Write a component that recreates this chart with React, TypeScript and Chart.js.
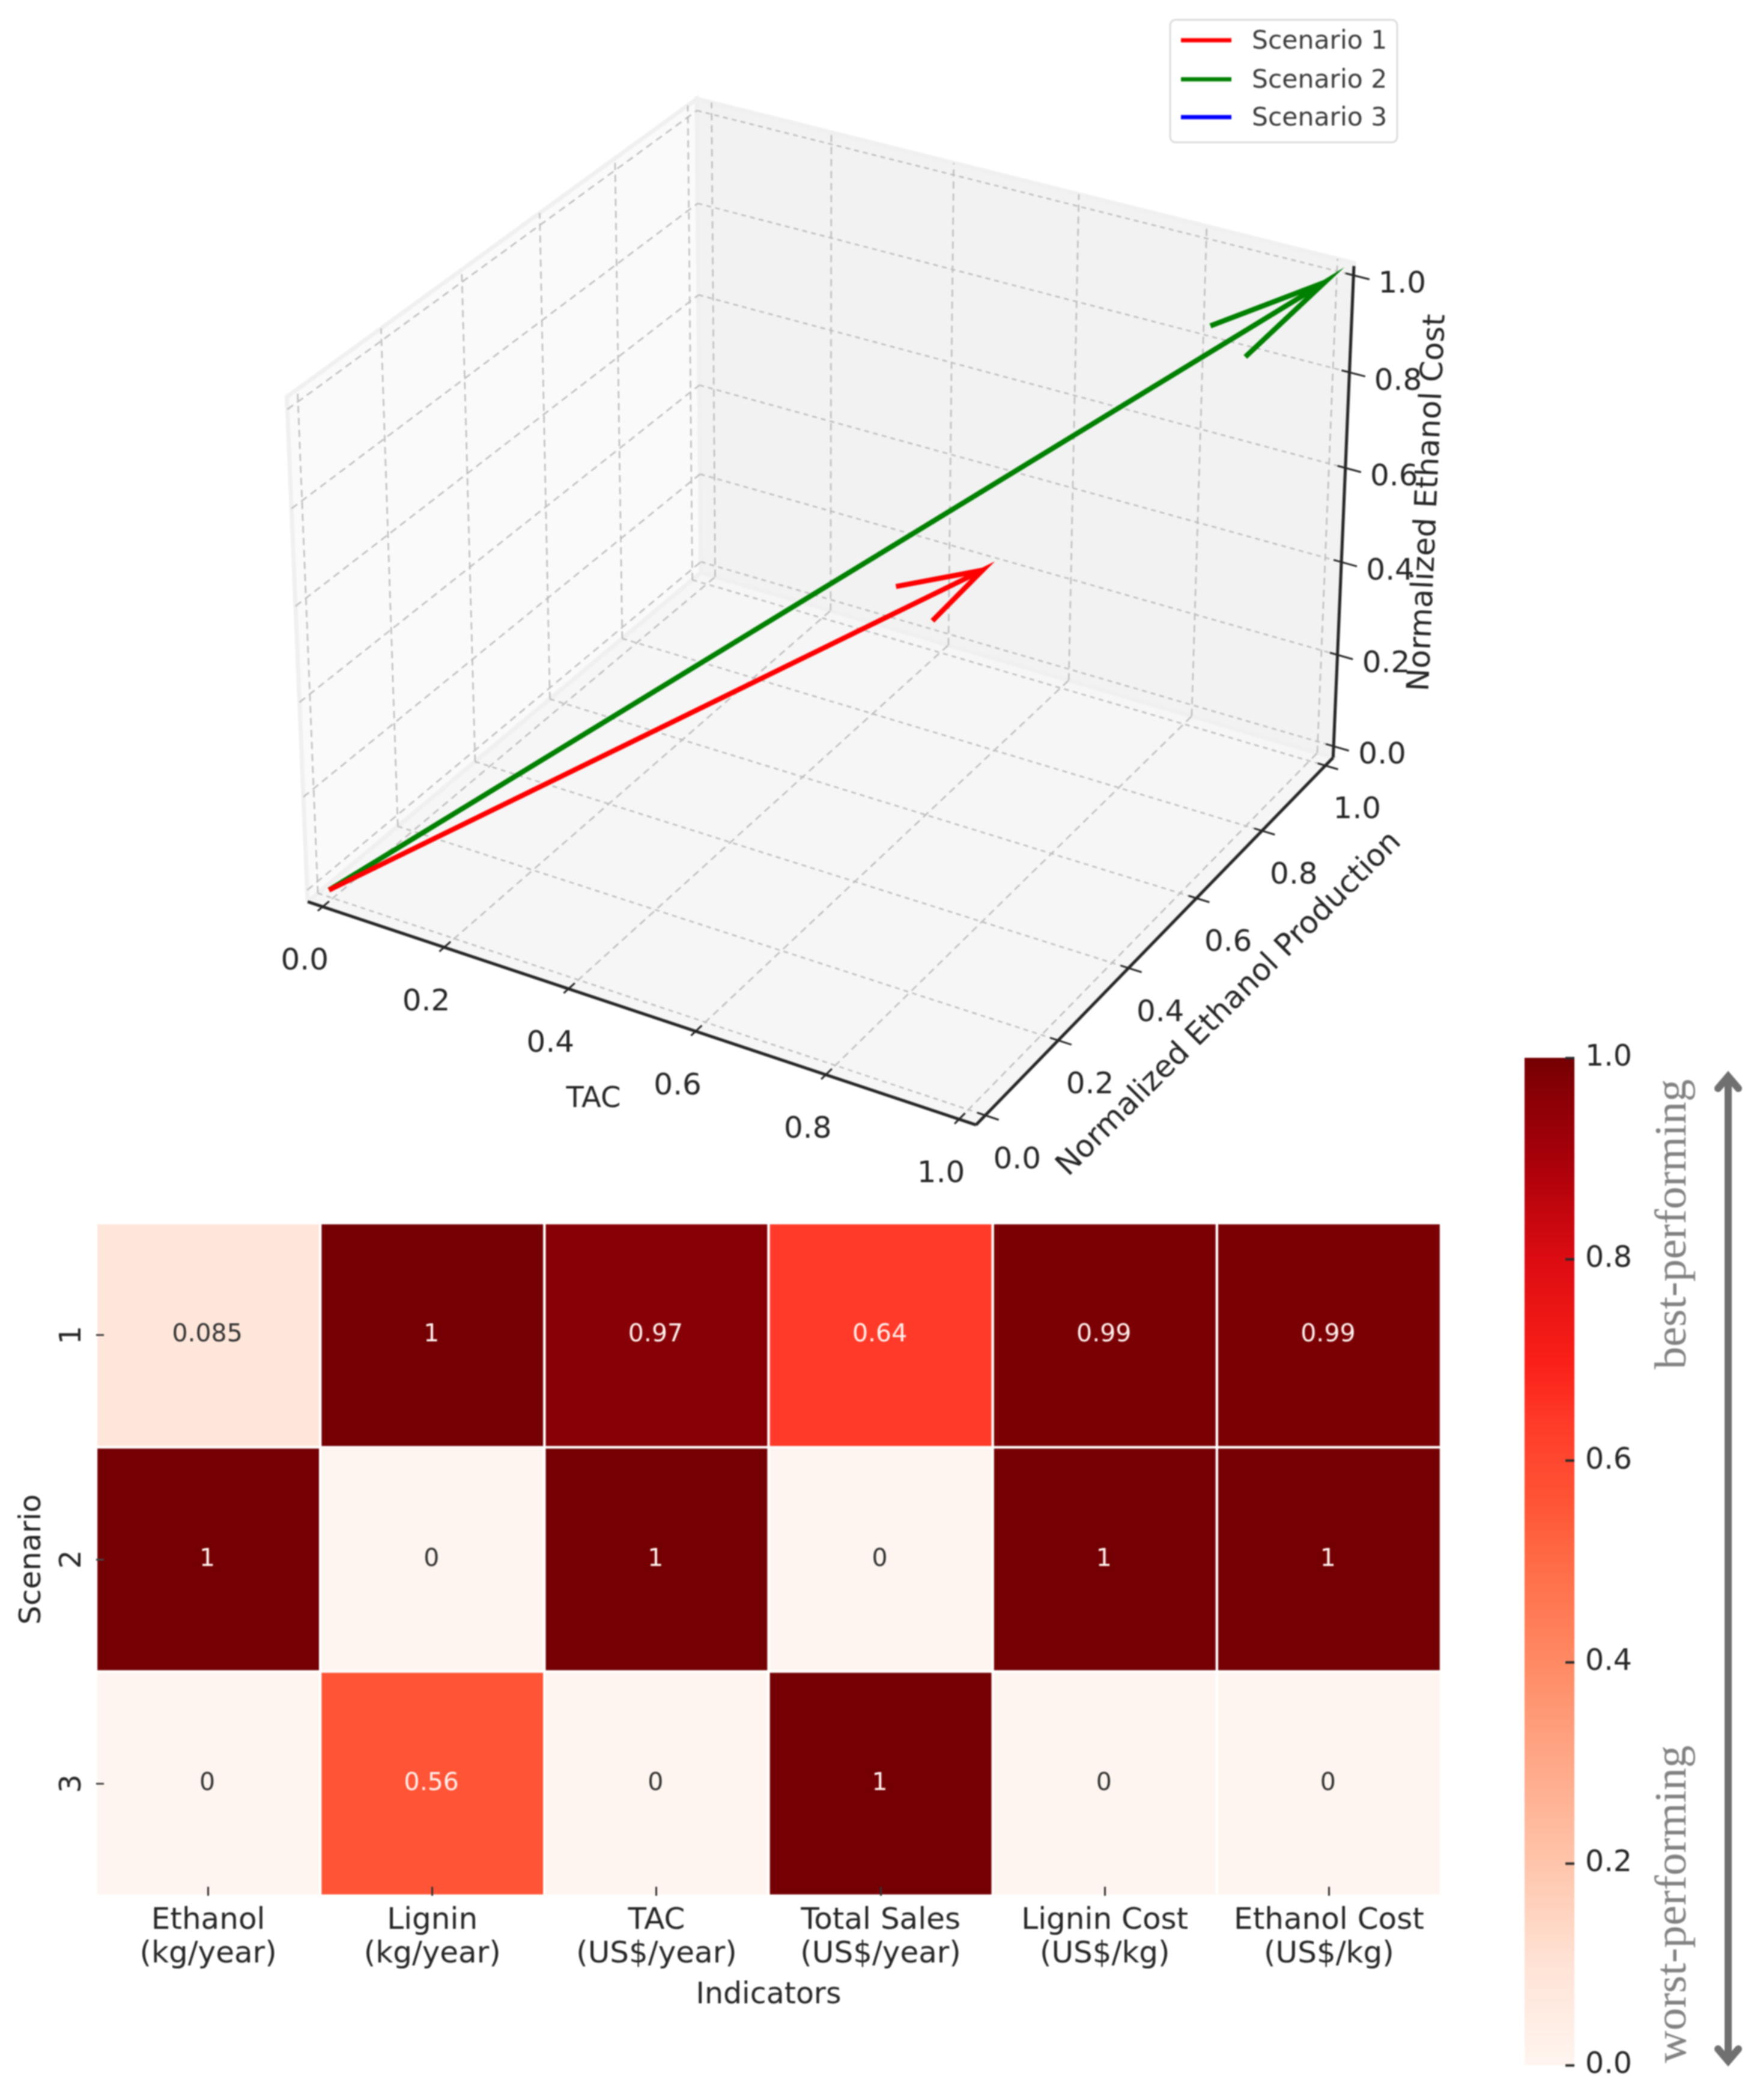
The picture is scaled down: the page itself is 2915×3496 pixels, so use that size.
import { useEffect, useRef } from 'react';
import { Chart, registerables } from 'chart.js';

Chart.register(...registerables);

// ---------- data ----------
const AXIS_TICKS = [0, 0.2, 0.4, 0.6, 0.8, 1];
const AXIS_TICK_LABELS = ['0.0', '0.2', '0.4', '0.6', '0.8', '1.0'];
const SCENARIO_NAMES = ['Scenario 1', 'Scenario 2', 'Scenario 3'];
const SCENARIO_COLORS = ['#ff0000', '#008000', '#0000ff'];
const TAC_VALUES = [0.97, 1, 0];
const PRODUCTION_VALUES = [0.085, 1, 0];
const COST_VALUES = [0.99, 1, 0];

const INDICATORS = [
  ['Ethanol', '(kg/year)'],
  ['Lignin', '(kg/year)'],
  ['TAC', '(US$/year)'],
  ['Total Sales', '(US$/year)'],
  ['Lignin Cost', '(US$/kg)'],
  ['Ethanol Cost', '(US$/kg)'],
];
const ROW_LABELS = ['1', '2', '3'];
const ROW_1 = [0.085, 1, 0.97, 0.64, 0.99, 0.99];
const ROW_2 = [1, 0, 1, 0, 1, 1];
const ROW_3 = [0, 0.56, 0, 1, 0, 0];
const HEAT_ROWS = [ROW_1, ROW_2, ROW_3];

const COLORBAR_TICKS_STEP = 0.2;
const RED_STOPS: [number, string][] = [
  [0, '#fff5f0'],
  [0.1, '#ffe3d6'],
  [0.2, '#ffc5ab'],
  [0.3, '#ffa888'],
  [0.4, '#ff8a64'],
  [0.5, '#ff6b46'],
  [0.56, '#ff5436'],
  [0.64, '#ff3a28'],
  [0.7, '#fa1f18'],
  [0.8, '#dc0c12'],
  [0.9, '#a8000a'],
  [0.97, '#860005'],
  [1, '#740003'],
];

// ---------- colours ----------
function hex(c: string) {
  return [1, 3, 5].map((i) => parseInt(c.slice(i, i + 2), 16));
}
function reds(v: number) {
  for (let i = 1; i < RED_STOPS.length; i++) {
    if (v <= RED_STOPS[i][0]) {
      const [a, ca] = RED_STOPS[i - 1];
      const [b, cb] = RED_STOPS[i];
      const t = (v - a) / (b - a);
      const A = hex(ca);
      const B = hex(cb);
      return `rgb(${A.map((x, k) => Math.round(x + (B[k] - x) * t)).join(',')})`;
    }
  }
  return RED_STOPS[RED_STOPS.length - 1][1];
}

// ---------- 3D camera: solved from where the axes sit in the page ----------
const P = 0.025;
type V3 = [number, number, number];
const CAMERA_ANCHORS: [V3, [number, number]][] = [
  ...(
    [
      [533, 1513],
      [737, 1579],
      [946, 1647],
      [1158, 1717],
      [1375, 1791],
      [1600, 1861],
    ] as [number, number][]
  ).map((p, i): [V3, [number, number]] => [[AXIS_TICKS[i], -P, -P], p]),
  ...(
    [
      [1638, 1858],
      [1761, 1729],
      [1877, 1610],
      [1988, 1494],
      [2102, 1383],
      [2210, 1273],
    ] as [number, number][]
  ).map((p, i): [V3, [number, number]] => [[1 + P, AXIS_TICKS[i], -P], p]),
  ...(
    [
      [2217, 1245],
      [2225, 1092],
      [2233, 937],
      [2242, 780],
      [2248, 620],
      [2255, 457],
    ] as [number, number][]
  ).map((p, i): [V3, [number, number]] => [[1 + P, 1 + P, AXIS_TICKS[i]], p]),
  [[-P, 1 + P, 0], [1168, 938]],
  [[0, 1, -P], [1178, 970]],
  [[-P, 1, -P], [1153, 958]],
  [[0, 1 + P, -P], [1187, 963]],
  [[-P, 1 + P, 0.2], [1167, 792]],
  [[-P, 0.8, -P], [1040, 1060]],
  [[-P, 0.8, 0], [1040, 1045]],
  [[-P, 1 + P, 1 + P], [1150, 166]],
  [[-P, -P, 1 + P], [484, 658]],
];

function solveCamera() {
  const n = 11;
  const A = Array.from({ length: n }, () => new Array(n + 1).fill(0));
  const add = (row: number[], rhs: number) => {
    for (let i = 0; i < n; i++) {
      for (let j = 0; j < n; j++) A[i][j] += row[i] * row[j];
      A[i][n] += row[i] * rhs;
    }
  };
  for (const [[X, Y, Z], [px, py]] of CAMERA_ANCHORS) {
    const u = px / 1000;
    const v = py / 1000;
    add([X, Y, Z, 1, 0, 0, 0, 0, -u * X, -u * Y, -u * Z], u);
    add([0, 0, 0, 0, X, Y, Z, 1, -v * X, -v * Y, -v * Z], v);
  }
  for (let c = 0; c < n; c++) {
    let best = c;
    for (let r = c + 1; r < n; r++) if (Math.abs(A[r][c]) > Math.abs(A[best][c])) best = r;
    [A[c], A[best]] = [A[best], A[c]];
    for (let r = 0; r < n; r++) {
      if (r === c) continue;
      const f = A[r][c] / A[c][c];
      for (let k = c; k <= n; k++) A[r][k] -= f * A[c][k];
    }
  }
  return A.map((row, i) => row[n] / row[i]);
}
const H = solveCamera();
function project([X, Y, Z]: V3) {
  const w = H[8] * X + H[9] * Y + H[10] * Z + 1;
  return {
    x: (1000 * (H[0] * X + H[1] * Y + H[2] * Z + H[3])) / w,
    y: (1000 * (H[4] * X + H[5] * Y + H[6] * Z + H[7])) / w,
  };
}

function rotateAbout(v: V3, k: V3, a: number): V3 {
  const c = Math.cos(a);
  const s = Math.sin(a);
  const d = k[0] * v[0] + k[1] * v[1] + k[2] * v[2];
  const cr: V3 = [k[1] * v[2] - k[2] * v[1], k[2] * v[0] - k[0] * v[2], k[0] * v[1] - k[1] * v[0]];
  return [0, 1, 2].map((i) => v[i] * c + cr[i] * s + k[i] * d * (1 - c)) as V3;
}

// the quiver sits a hair off the fitted camera in the picture
const QUIVER_SHIFT: V3 = [-0.006, 0, -0.01];

function arrowPath(tip: V3) {
  const origin: V3 = [0, 0, 0];
  const view = (p: V3) => project([p[0] + QUIVER_SHIFT[0], p[1] + QUIVER_SHIFT[1], p[2] + QUIVER_SHIFT[2]]);
  const n = Math.hypot(tip[0], tip[1]);
  if (n === 0) return [origin, origin, origin].map(view);
  const axis: V3 = [tip[1] / n, -tip[0] / n, 0];
  const head = (sign: number): V3 => {
    const r = rotateAbout(tip, axis, (sign * 15 * Math.PI) / 180);
    return [tip[0] - 0.1 * r[0], tip[1] - 0.1 * r[1], tip[2] - 0.1 * r[2]];
  };
  return [origin, tip, head(1), tip, head(-1)].map(view);
}

const Lo = -P;
const Hi = 1 + P;

function line3(a: V3, b: V3, color: string, width: number, dash: number[], order: number, label = '') {
  return {
    label,
    data: [a, b].map(project),
    showLine: true,
    pointRadius: 0,
    borderColor: color,
    borderWidth: width,
    borderDash: dash,
    order,
    clip: false,
  };
}

function pane(corners: V3[], fill: string, order: number) {
  return {
    label: '',
    data: corners.map(project),
    showLine: true,
    pointRadius: 0,
    borderColor: '#f0f0f0',
    borderWidth: 7,
    backgroundColor: fill,
    fill: 'shape',
    order,
    clip: false,
  };
}

function build3DDatasets() {
  const ds: any[] = [];
  SCENARIO_NAMES.forEach((name, i) => {
    ds.push({
      label: name,
      isScenario: true,
      data: arrowPath([TAC_VALUES[i], PRODUCTION_VALUES[i], COST_VALUES[i]]),
      showLine: true,
      pointRadius: 0,
      borderColor: SCENARIO_COLORS[i],
      backgroundColor: SCENARIO_COLORS[i],
      borderWidth: 8.5,
      borderCapStyle: 'butt',
      borderJoinStyle: 'miter',
      order: i === 0 ? 1 : i === 1 ? 2 : 3,
      clip: false,
    });
  });
  const axisColor = '#262626';
  ds.push(line3([Lo, Lo, Lo], [Hi, Lo, Lo], axisColor, 5, [], 5));
  ds.push(line3([Hi, Lo, Lo], [Hi, Hi, Lo], axisColor, 5, [], 5));
  ds.push(line3([Hi, Hi, Lo], [Hi, Hi, Hi - 0.006], axisColor, 5, [], 5));
  const grid = '#bdbdbd';
  const long = [12, 8];
  const short = [8, 7];
  AXIS_TICKS.forEach((t) => {
    ds.push(line3([t, Lo - 0.012, Lo], [t, Lo + 0.016, Lo], axisColor, 3, [], 5));
    ds.push(line3([Hi - 0.012, t, Lo], [Hi + 0.02, t, Lo], axisColor, 3, [], 5));
    ds.push(line3([Hi - 0.012, Hi, t], [Hi + 0.024, Hi, t], axisColor, 3, [], 5));
    ds.push(line3([t, Lo, Lo], [t, Hi, Lo], grid, 2.5, long, 8));
    ds.push(line3([t, Hi, Lo], [t, Hi, Hi], grid, 2.5, long, 8));
    ds.push(line3([Lo, t, Lo], [Hi, t, Lo], grid, 2.5, short, 8));
    ds.push(line3([Lo, t, Lo], [Lo, t, Hi], grid, 2.5, long, 8));
    ds.push(line3([Lo, Lo, t], [Lo, Hi, t], grid, 2.5, long, 8));
    ds.push(line3([Lo, Hi, t], [Hi, Hi, t], grid, 2.5, short, 8));
  });
  ds.push(pane([[Lo, Lo, Lo], [Hi, Lo, Lo], [Hi, Hi, Lo], [Lo, Hi, Lo], [Lo, Lo, Lo]], '#f6f6f6', 10));
  ds.push(pane([[Lo, Hi, Lo], [Hi, Hi, Lo], [Hi, Hi, Hi], [Lo, Hi, Hi], [Lo, Hi, Lo]], '#f2f2f2', 11));
  ds.push(pane([[Lo, Lo, Lo], [Lo, Hi, Lo], [Lo, Hi, Hi], [Lo, Lo, Hi], [Lo, Lo, Lo]], '#fafafa', 12));
  return ds;
}

const FONT = '"DejaVu Sans"';
const TEXT = '#262626';

function drawText(c: CanvasRenderingContext2D, text: string, x: number, y: number, font: string, color: string, deg = 0) {
  c.save();
  c.translate(x, y);
  c.rotate((deg * Math.PI) / 180);
  c.font = font;
  c.fillStyle = color;
  c.textAlign = 'center';
  c.textBaseline = 'middle';
  c.fillText(text, 0, 0);
  c.restore();
}

const labels3D = {
  id: 'labels3D',
  afterDatasetsDraw(chart: any) {
    const c = chart.ctx as CanvasRenderingContext2D;
    const tickFont = `50px ${FONT}`;
    AXIS_TICKS.forEach((t, i) => {
      const a = project([t, Lo, Lo]);
      drawText(c, AXIS_TICK_LABELS[i], a.x - 30, a.y + 92, tickFont, TEXT);
      const b = project([Hi, t, Lo]);
      drawText(c, AXIS_TICK_LABELS[i], b.x + 53, b.y + 75, tickFont, TEXT);
      const d = project([Hi, Hi, t]);
      drawText(c, AXIS_TICK_LABELS[i], d.x + 81, d.y + 16, tickFont, TEXT);
    });
    drawText(c, 'TAC', 988, 1831, `48px ${FONT}`, TEXT);
    drawText(c, 'Normalized Ethanol Production', 2047, 1672, `51px ${FONT}`, TEXT, -45);
    drawText(c, 'Normalized Ethanol Cost', 2378, 837, `51px ${FONT}`, TEXT, -87.5);

    // legend
    c.save();
    c.beginPath();
    c.roundRect(1948, 33, 378, 204, 9);
    c.fillStyle = '#ffffff';
    c.fill();
    c.lineWidth = 3;
    c.strokeStyle = '#dcdcdc';
    c.stroke();
    const items = chart.data.datasets.filter((d: any) => d.isScenario);
    const rows = [67, 132, 195];
    items.forEach((d: any, i: number) => {
      c.beginPath();
      c.moveTo(1966, rows[i]);
      c.lineTo(2050, rows[i]);
      c.strokeStyle = d.borderColor;
      c.lineWidth = 7;
      c.stroke();
      c.font = `42.5px ${FONT}`;
      c.fillStyle = '#3c3c3c';
      c.textAlign = 'left';
      c.textBaseline = 'middle';
      c.fillText(d.label, 2084, rows[i] + 3);
    });
    c.restore();
  },
};

const cellLabels = {
  id: 'cellLabels',
  afterDatasetsDraw(chart: any) {
    const c = chart.ctx as CanvasRenderingContext2D;
    HEAT_ROWS.forEach((vals, r) => {
      const meta = chart.getDatasetMeta(r);
      vals.forEach((v, i) => {
        const p = meta.data[i].getCenterPoint();
        drawText(c, String(v), p.x - 1.5, p.y, `41px ${FONT}`, v > 0.5 ? '#fff0ec' : '#333333');
      });
    });
  },
};

const sideNotes = {
  id: 'sideNotes',
  afterDraw(chart: any) {
    const c = chart.ctx as CanvasRenderingContext2D;
    const ox = 2500;
    const oy = 1700;
    const serif = '75px "Liberation Serif"';
    c.save();
    c.font = serif;
    c.fillStyle = '#828282';
    c.textAlign = 'center';
    c.textBaseline = 'alphabetic';
    [
      ['best-performing', 2038],
      ['worst-performing', 3170],
    ].forEach(([t, y]) => {
      c.save();
      c.translate(2806 - ox, (y as number) - oy);
      c.rotate(-Math.PI / 2);
      c.fillText(t as string, 0, 0);
      c.restore();
    });
    c.strokeStyle = '#707070';
    c.lineWidth = 12;
    c.beginPath();
    c.moveTo(2877 - ox, 1792 - oy);
    c.lineTo(2877 - ox, 3430 - oy);
    c.stroke();
    c.lineWidth = 12;
    c.lineCap = 'round';
    c.lineJoin = 'miter';
    c.beginPath();
    c.moveTo(2860 - ox, 1812 - oy);
    c.lineTo(2877 - ox, 1792 - oy);
    c.lineTo(2894 - ox, 1812 - oy);
    c.stroke();
    c.beginPath();
    c.moveTo(2860 - ox, 3411 - oy);
    c.lineTo(2877 - ox, 3431 - oy);
    c.lineTo(2894 - ox, 3411 - oy);
    c.stroke();
    c.restore();
  },
};

const canvasStyle = (left: number, top: number, width: number, height: number): React.CSSProperties => ({
  position: 'absolute',
  left,
  top,
  width,
  height,
  display: 'block',
  filter: 'blur(1.1px)',
});

export default function App() {
  const a = useRef<HTMLCanvasElement>(null);
  const b = useRef<HTMLCanvasElement>(null);
  const d = useRef<HTMLCanvasElement>(null);

  useEffect(() => {
    Chart.defaults.font.family = FONT;
    Chart.defaults.color = TEXT;
    const quiet = { legend: { display: false }, tooltip: { enabled: false } };

    const top = new Chart(a.current!, {
      type: 'scatter',
      data: { datasets: build3DDatasets() },
      options: {
        animation: false,
        responsive: false,
        devicePixelRatio: 1,
        plugins: quiet as any,
        layout: { padding: 0 },
        scales: {
          x: { type: 'linear', min: 0, max: 2915, display: false },
          y: { type: 'linear', min: 0, max: 2010, reverse: true, display: false },
        },
      },
      plugins: [labels3D],
    } as any);

    const heat = new Chart(b.current!, {
      type: 'bar',
      data: {
        labels: INDICATORS as any,
        datasets: HEAT_ROWS.map((vals, r) => ({
          label: `Scenario ${ROW_LABELS[r]}`,
          data: vals.map(() => [r, r + 1]),
          backgroundColor: vals.map(reds),
          borderColor: '#ffffff',
          borderWidth: 2.5,
          borderSkipped: false,
          barPercentage: 1,
          categoryPercentage: 1,
          grouped: false,
        })),
      } as any,
      options: {
        animation: false,
        responsive: false,
        devicePixelRatio: 1,
        plugins: quiet as any,
        layout: { padding: { left: 0, right: 21, top: 36, bottom: 0 } },
        scales: {
          x: {
            afterFit(s: any) {
              s.height = 244;
              s.paddingLeft = 0;
              s.paddingRight = 0;
            },
            grid: { offset: false, drawOnChartArea: false, tickLength: -15, tickColor: '#333333', tickWidth: 3, z: 1 },
            border: { display: false },
            ticks: { font: { size: 50, lineHeight: 1.12 }, padding: 29, maxRotation: 0, minRotation: 0, autoSkip: false, color: TEXT },
            title: { display: true, text: 'Indicators', font: { size: 49 }, color: TEXT, padding: { top: 0, bottom: 48 } },
          },
          y: {
            type: 'linear',
            min: 0,
            max: 3,
            reverse: true,
            afterFit(s: any) {
              s.width = 160;
              s.paddingTop = 0;
              s.paddingBottom = 0;
            },
            afterBuildTicks(s: any) {
              s.ticks = ROW_LABELS.map((_, i) => ({ value: i + 0.5 }));
            },
            grid: { drawOnChartArea: false, tickLength: -13, tickColor: '#444444', tickWidth: 3, z: 1 },
            border: { display: false },
            ticks: {
              font: { size: 49 },
              padding: 36,
              minRotation: 90,
              maxRotation: 90,
              crossAlign: 'center',
              autoSkip: false,
              color: TEXT,
              callback: (v: any) => ROW_LABELS[Math.floor(v)],
            },
            title: { display: true, text: 'Scenario', font: { size: 50 }, color: TEXT, padding: { top: 24, bottom: 0 } },
          },
        },
      },
      plugins: [cellLabels],
    } as any);

    const bar = new Chart(d.current!, {
      type: 'bar',
      data: {
        labels: ['scale'],
        datasets: [
          {
            label: 'Normalized performance',
            data: [[0, 1]],
            barPercentage: 1,
            categoryPercentage: 1,
            borderWidth: 0,
            backgroundColor: (ctx: any) => {
              const { chart } = ctx;
              const area = chart.chartArea;
              if (!area) return '#740003';
              const g = chart.ctx.createLinearGradient(0, area.bottom, 0, area.top);
              RED_STOPS.forEach(([v, col]) => g.addColorStop(v, col));
              return g;
            },
          },
        ],
      } as any,
      options: {
        animation: false,
        responsive: false,
        devicePixelRatio: 1,
        plugins: quiet as any,
        layout: { padding: { left: 38, top: 61, bottom: 58, right: 0 } },
        scales: {
          x: { display: false },
          y: {
            position: 'right',
            min: 0,
            max: 1,
            afterFit(s: any) {
              s.width = 294;
              s.paddingTop = 0;
              s.paddingBottom = 0;
            },
            grid: { drawOnChartArea: false, tickLength: -15, tickColor: '#2a2a2a', tickWidth: 4, z: 1 },
            border: { display: false },
            ticks: {
              stepSize: COLORBAR_TICKS_STEP,
              padding: 33,
              font: { size: 49 },
              color: TEXT,
              callback: (v: any) => Number(v).toFixed(1),
            },
          },
        },
      },
      plugins: [sideNotes],
    } as any);

    return () => {
      top.destroy();
      heat.destroy();
      bar.destroy();
    };
  }, []);

  return (
    <div>
      <canvas ref={a} width={2915} height={2010} style={canvasStyle(0, 0, 2915, 2010)} />
      <canvas ref={b} width={2420} height={1400} style={canvasStyle(0, 2000, 2420, 1400)} />
      <canvas ref={d} width={415} height={1796} style={canvasStyle(2500, 1700, 415, 1796)} />
    </div>
  );
}
